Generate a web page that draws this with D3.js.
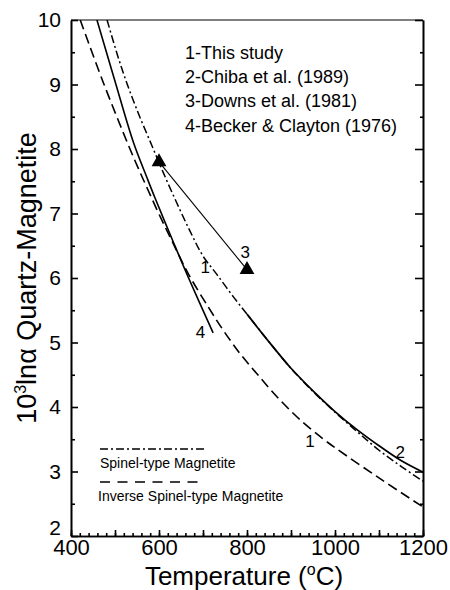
<!DOCTYPE html>
<html>
<head>
<meta charset="utf-8">
<script src="https://cdn.jsdelivr.net/npm/d3@7"></script>
<style>
  body { margin: 0; background: #fff; }
  svg { display: block; font-family: "Liberation Sans", Arial, Helvetica, sans-serif; }
</style>
</head>
<body>
<div id="chart"></div>
<script>
// Values: [temperature in C, 10^3 ln alpha]
const spinel = [[482,10],[505,9.47],[528,9.0],[555,8.52],[584,8.05],[610,7.63],[640,7.17],[671,6.72],[700,6.34],[731,6.06],[770,5.7],[807,5.38],[850,5.01],[900,4.6],[950,4.24],[1000,3.92],[1050,3.62],[1100,3.33],[1150,3.08],[1200,2.85]];
const inverseSpinel = [[421,10],[474,9.02],[531,8.05],[553,7.7],[574,7.38],[600,6.99],[629,6.58],[667,6.06],[712,5.55],[746,5.19],[784,4.83],[822,4.52],[868,4.16],[921,3.8],[974,3.5],[1004,3.35],[1100,2.9],[1200,2.45]];
const chiba = [[800,5.44],[850,5.01],[900,4.6],[950,4.25],[1000,3.93],[1050,3.65],[1100,3.4],[1150,3.17],[1200,2.99]];
const becker = [[459,10],[500,9.05],[542,8.1],[573,7.55],[591,7.24],[633,6.55],[666,6.02],[723,5.15]];
const downs = [[600,7.8],[800,6.13]];

const curveLabels = [["1",705,6.16],["3",796,6.39],["4",694,5.16],["1",943,3.46],["2",1148,3.3]];
const legendItems = ["1-This study","2-Chiba et al. (1989)","3-Downs et al. (1981)","4-Becker & Clayton (1976)"];
const xLabels = [400,600,800,1000,1200];
const yLabels = [2,3,4,5,6,7,8,9,10];

function drawChart() {
  const W = 450, H = 590;
  const margin = { top: 20, right: 27, bottom: 54, left: 71 };

  const svg = d3.select("#chart").append("svg")
      .attr("width", W)
      .attr("height", H);

  const x = d3.scaleLinear().domain([400, 1200]).range([margin.left, W - margin.right]);
  const y = d3.scaleLinear().domain([2, 10]).range([H - margin.bottom, margin.top]);

  svg.append("clipPath").attr("id", "plot")
    .append("rect")
      .attr("x", x(400)).attr("y", y(10))
      .attr("width", x(1200) - x(400)).attr("height", y(2) - y(10));

  // Bottom axis: minor ticks every 20, taller every 100, labels every 200
  svg.append("g")
      .attr("transform", `translate(0,${y(2)})`)
      .call(d3.axisBottom(x).tickValues(d3.range(400, 1201, 20)).tickSizeInner(-3).tickSizeOuter(0).tickFormat(""));
  svg.append("g")
      .attr("transform", `translate(0,${y(2)})`)
      .call(d3.axisBottom(x).tickValues(d3.range(400, 1201, 100)).tickSizeInner(-6).tickSizeOuter(0)
        .tickFormat(d => xLabels.includes(d) ? d : "").tickPadding(3))
      .call(g => g.selectAll("text").attr("font-size", 22).attr("fill", "#000").attr("font-family", null));

  // Left axis
  svg.append("g")
      .attr("transform", `translate(${x(400)},0)`)
      .call(d3.axisLeft(y).tickValues(d3.range(2.5, 10, 1)).tickSizeInner(-4).tickSizeOuter(0).tickFormat(""));
  svg.append("g")
      .attr("transform", `translate(${x(400)},0)`)
      .call(d3.axisLeft(y).tickValues(yLabels).tickSizeInner(-7).tickSizeOuter(0).tickPadding(10))
      .call(g => g.selectAll("text").attr("font-size", 21).attr("fill", "#000").attr("font-family", null))
      .call(g => g.selectAll(".tick").filter(d => d === 2).select("text").attr("dy", "-0.08em"));

  // Right axis, ticks inside, no labels
  svg.append("g")
      .attr("transform", `translate(${x(1200)},0)`)
      .call(d3.axisRight(y).tickValues(d3.range(2.5, 10, 1)).tickSizeInner(-3).tickSizeOuter(0).tickFormat(""));
  svg.append("g")
      .attr("transform", `translate(${x(1200)},0)`)
      .call(d3.axisRight(y).tickValues(yLabels).tickSizeInner(-8).tickSizeOuter(0).tickFormat(""));

  // Top frame line
  svg.append("line")
      .attr("x1", x(400)).attr("x2", x(1200))
      .attr("y1", y(10)).attr("y2", y(10))
      .attr("stroke", "#000");

  svg.selectAll(".domain, .tick line").attr("stroke", "#000").attr("stroke-width", 1.6);

  const line = d3.line()
      .x(d => x(d[0]))
      .y(d => y(d[1]))
      .curve(d3.curveCatmullRom);

  const plot = svg.append("g").attr("clip-path", "url(#plot)");

  plot.append("path").datum(spinel)
      .attr("d", line).attr("fill", "none").attr("stroke", "#000")
      .attr("stroke-width", 1.5).attr("stroke-dasharray", "8,3,2,3");

  plot.append("path").datum(inverseSpinel)
      .attr("d", line).attr("fill", "none").attr("stroke", "#000")
      .attr("stroke-width", 1.6).attr("stroke-dasharray", "10,5");

  plot.append("path").datum(chiba)
      .attr("d", line).attr("fill", "none").attr("stroke", "#000")
      .attr("stroke-width", 1.7);

  plot.append("path").datum(becker)
      .attr("d", line).attr("fill", "none").attr("stroke", "#000")
      .attr("stroke-width", 1.6);

  plot.append("path").datum(downs)
      .attr("d", d3.line().x(d => x(d[0])).y(d => y(d[1])))
      .attr("fill", "none").attr("stroke", "#000").attr("stroke-width", 1.1);

  svg.selectAll(".tri").data(downs).join("path")
      .attr("class", "tri")
      .attr("transform", d => `translate(${x(d[0])},${y(d[1])})`)
      .attr("d", d3.symbol(d3.symbolTriangle, 95))
      .attr("fill", "#000");

  // Curve numbers
  svg.selectAll(".clab").data(curveLabels).join("text")
      .attr("class", "clab")
      .attr("x", d => x(d[1])).attr("y", d => y(d[2]))
      .attr("text-anchor", "middle").attr("dominant-baseline", "central")
      .attr("font-size", 17)
      .text(d => d[0]);

  // Reference legend
  svg.selectAll(".leg").data(legendItems).join("text")
      .attr("class", "leg")
      .attr("x", 185)
      .attr("y", (d, i) => 59 + i * 24.2)
      .attr("font-size", 18)
      .text(d => d);

  // Line-style legend
  svg.append("line")
      .attr("x1", 100).attr("x2", 207).attr("y1", 449).attr("y2", 449)
      .attr("stroke", "#000").attr("stroke-width", 1.4).attr("stroke-dasharray", "8,3,2,3");
  svg.append("text").attr("x", 100).attr("y", 468).attr("font-size", 14).text("Spinel-type Magnetite");
  svg.append("line")
      .attr("x1", 100).attr("x2", 205).attr("y1", 482).attr("y2", 482)
      .attr("stroke", "#000").attr("stroke-width", 1.6).attr("stroke-dasharray", "10,7.5");
  svg.append("text").attr("x", 98).attr("y", 501).attr("font-size", 14).text("Inverse Spinel-type Magnetite");

  // Axis titles
  const xt = svg.append("text")
      .attr("x", 244).attr("y", 585)
      .attr("text-anchor", "middle").attr("font-size", 26);
  xt.append("tspan").text("Temperature (");
  xt.append("tspan").attr("font-size", 16).attr("dy", -10).text("o");
  xt.append("tspan").attr("dy", 10).text("C)");

  const yt = svg.append("text")
      .attr("transform", "translate(36,278) rotate(-90)")
      .attr("text-anchor", "middle").attr("font-size", 27);
  yt.append("tspan").text("10");
  yt.append("tspan").attr("font-size", 16).attr("dy", -10).text("3");
  yt.append("tspan").attr("dy", 10).text("ln\u03b1 Quartz-Magnetite");
}

drawChart();
</script>
</body>
</html>
